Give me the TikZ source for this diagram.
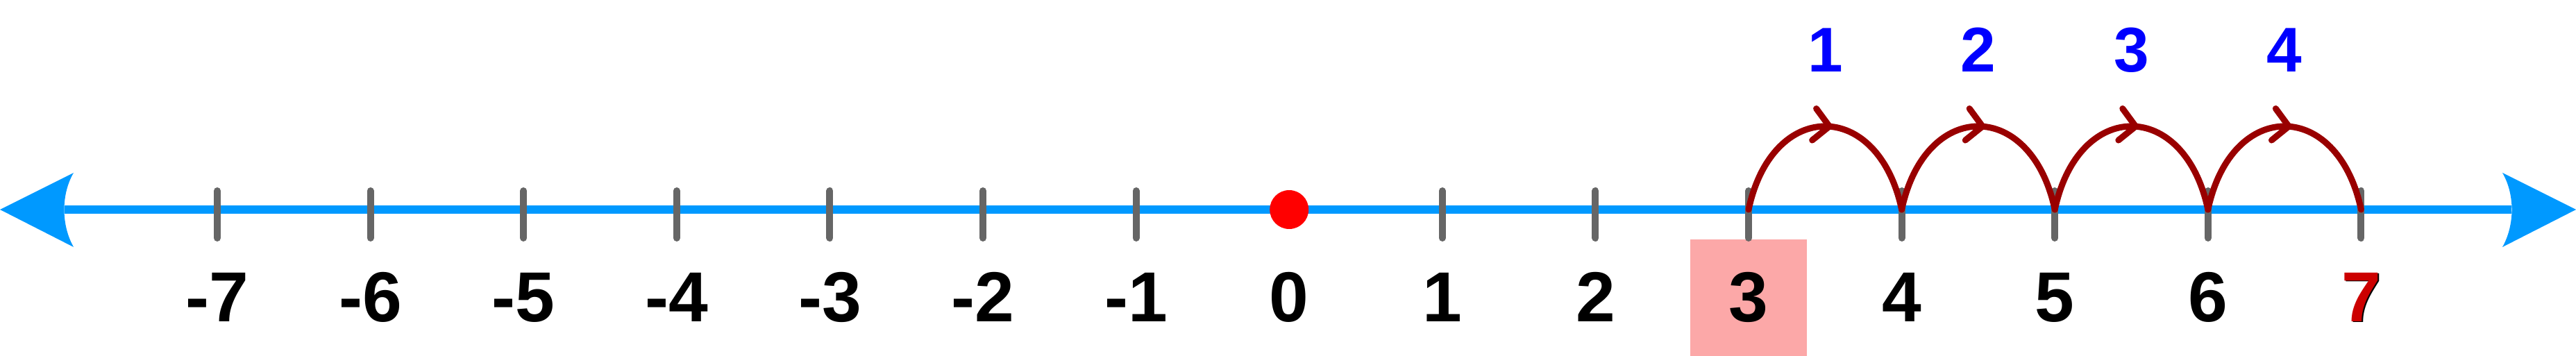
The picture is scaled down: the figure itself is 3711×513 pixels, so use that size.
\documentclass[tikz,border=0pt]{standalone}
\usepackage{fontspec}
\setmainfont{Liberation Sans}
\usetikzlibrary{arrows.meta,decorations.markings,calc}
\definecolor{axisblue}{HTML}{0099FF}
\definecolor{tickgray}{HTML}{666666}
\definecolor{hopred}{HTML}{990000}
\definecolor{boxpink}{HTML}{FCA8A8}
\definecolor{endred}{HTML}{CC0000}
\definecolor{countblue}{HTML}{0000FF}
\begin{document}
\begin{tikzpicture}[x=1pt,y=-1pt,
  axis/.style={axisblue, line width=12pt},
  arrowhead/.style={fill=axisblue, draw=none},
  tickmark/.style={tickgray, line width=10pt, line cap=round},
  hop/.style={hopred, line width=9pt, line cap=round, postaction={decorate},
    decoration={markings, mark=at position 0.53 with {\arrow{Straight Barb[length=22pt,width=46pt,round]}}}},
  numlabel/.style={font=\fontsize{102}{110}\selectfont\bfseries, anchor=base, inner sep=0pt},
  countlabel/.style={font=\fontsize{91}{100}\selectfont\bfseries, text=countblue, anchor=base, inner sep=0pt}]
\useasboundingbox (0,0) rectangle (3711,513);
% positions on the line
\foreach \n in {-7,...,7} \coordinate (t\n) at ({313+(\n+7)*220.6},302);
% highlight box behind 3
\node[fill=boxpink, minimum width=168pt, minimum height=168pt, inner sep=0pt, anchor=north] (hl) at ([yshift=-43pt]t3) {};
% axis
\coordinate (lend) at (93,302);
\coordinate (rend) at (3618,302);
\draw[axis] (lend) -- (rend);
\fill[arrowhead] (0,302) -- (106,249) .. controls (88,280) and (88,324) .. (106,356) -- cycle;
\fill[arrowhead] (3711,302) -- (3605,249) .. controls (3623,280) and (3623,324) .. (3605,356) -- cycle;
% ticks
\foreach \n in {-7,...,-1,1,2,3,4,5,6,7}
  \draw[tickmark] ([yshift=27pt]t\n) -- ([yshift=-41pt]t\n);
% origin dot
\node[circle, fill=red, minimum size=56pt, inner sep=0pt] (zero) at (t0) {};
% hops
\foreach \a/\b in {3/4,4/5,5/6,6/7}
  \draw[hop] (t\a) .. controls +(34,-160) and +(-34,-160) .. (t\b);
% number labels
\foreach \n in {-7,...,6}
  \node[numlabel] (l\n) at ([yshift=-161pt]t\n) {\n};
\node[numlabel, text=black] (s7) at ([xshift=2pt,yshift=-162pt]t7) {7};
\node[numlabel, text=endred] (l7) at ([yshift=-161pt]t7) {7};
% count labels
\node[countlabel] (c1) at ($(t3)!0.5!(t4)+(0,-198)$) {1};
\node[countlabel] (c2) at ($(t4)!0.5!(t5)+(0,-198)$) {2};
\node[countlabel] (c3) at ($(t5)!0.5!(t6)+(0,-198)$) {3};
\node[countlabel] (c4) at ($(t6)!0.5!(t7)+(0,-198)$) {4};
\end{tikzpicture}
\end{document}
